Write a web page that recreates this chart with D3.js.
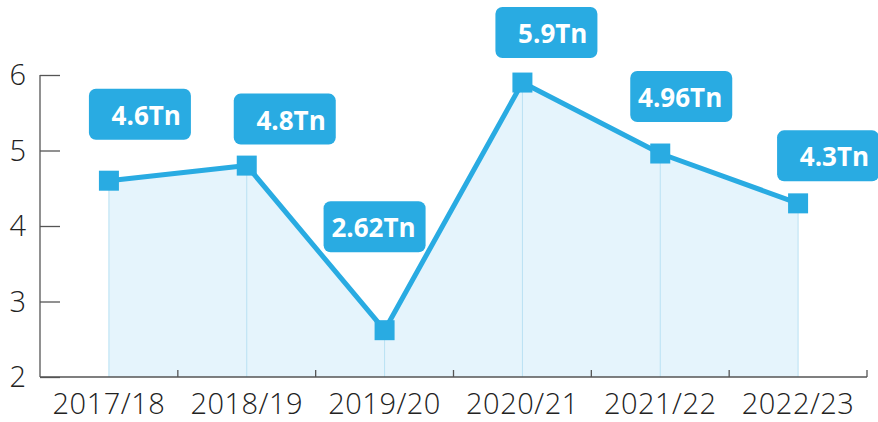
<!DOCTYPE html>
<html>
<head>
<meta charset="utf-8">
<script src="https://cdn.jsdelivr.net/npm/d3@7"></script>
<style>
  body { margin: 0; background: #fff; }
  svg { display: block; font-family: "Open Sans", "DejaVu Sans", sans-serif; }
</style>
</head>
<body>
<svg id="drawing_region"></svg>
<script>
// data
const years = ["2017/18", "2018/19", "2019/20", "2020/21", "2021/22", "2022/23"];
const values = [4.6, 4.8, 2.62, 5.9, 4.96, 4.3];
const valueLabels = ["4.6Tn", "4.8Tn", "2.62Tn", "5.9Tn", "4.96Tn", "4.3Tn"];
const yTicks = [2, 3, 4, 5, 6];

// where each callout box sits relative to its point (box centre dx, box bottom dy)
const calloutOffsets = [[31, -41], [38, -21], [-10, -78], [24, -24.5], [21, -31.5], [30, -22]];

const config = {
    width: 878,
    height: 422,
    left: 40,
    right: 867,
    top: 75,
    bottom: 377
};

const blue = "#29abe2";

const svg = d3.select("#drawing_region")
    .attr("width", config.width)
    .attr("height", config.height);

const xscale = d3.scaleBand()
    .domain(years)
    .range([config.left, config.right])
    .padding(0);

const yscale = d3.scaleLinear()
    .domain([2, 6])
    .range([config.bottom, config.top]);

const cx = d => xscale(d) + xscale.bandwidth() / 2;

const points = years.map((y, i) => ({ year: y, value: values[i], label: valueLabels[i], off: calloutOffsets[i] }));

// shaded area under the line
const area = d3.area()
    .x(d => cx(d.year))
    .y0(config.bottom)
    .y1(d => yscale(d.value));

svg.append("path")
    .datum(points)
    .attr("d", area)
    .attr("fill", "#e5f4fc");

// drop lines
svg.selectAll(".drop").data(points).enter()
    .append("line")
    .attr("x1", d => cx(d.year))
    .attr("x2", d => cx(d.year))
    .attr("y1", d => yscale(d.value))
    .attr("y2", config.bottom)
    .attr("stroke", "#b9e1f3")
    .attr("stroke-width", 1);

// y axis
const yAxis = svg.append("g")
    .attr("transform", `translate(${config.left},0)`)
    .call(d3.axisRight(yscale).tickValues(yTicks).tickSize(20).tickFormat(""));
yAxis.select(".domain").attr("d", `M0,${config.top}V${config.bottom}`);
yAxis.selectAll("line, path").attr("stroke", "#555").attr("stroke-width", 1.3);

svg.selectAll(".ylab").data(yTicks).enter()
    .append("text")
    .attr("x", 26)
    .attr("y", d => yscale(d))
    .attr("dy", "0.36em")
    .attr("text-anchor", "end")
    .attr("font-size", 29)
    .attr("font-weight", 300)
    .attr("fill", "#222")
    .text(d => d);

// x axis
const xAxis = svg.append("g")
    .attr("transform", `translate(0,${config.bottom})`);
xAxis.append("line")
    .attr("x1", config.left).attr("x2", config.right)
    .attr("y1", 0).attr("y2", 0)
    .attr("stroke", "#555").attr("stroke-width", 1.3);
const bounds = years.map(d => xscale(d)).concat([config.right]);
xAxis.selectAll(".xt").data(bounds.slice(1)).enter()
    .append("line")
    .attr("x1", d => d).attr("x2", d => d)
    .attr("y1", 0).attr("y2", -7)
    .attr("stroke", "#555").attr("stroke-width", 1.3);
xAxis.selectAll(".xlab").data(years).enter()
    .append("text")
    .attr("x", d => cx(d))
    .attr("y", 37)
    .attr("text-anchor", "middle")
    .attr("font-size", 29)
    .attr("font-weight", 300)
    .attr("letter-spacing", 0.5)
    .attr("fill", "#222")
    .text(d => d);

// line
const line = d3.line()
    .x(d => cx(d.year))
    .y(d => yscale(d.value));

svg.append("path")
    .datum(points)
    .attr("d", line)
    .attr("fill", "none")
    .attr("stroke", blue)
    .attr("stroke-width", 5)
    .attr("stroke-linejoin", "round");

// markers
const ms = 20;
svg.selectAll(".marker").data(points).enter()
    .append("rect")
    .attr("x", d => cx(d.year) - ms / 2)
    .attr("y", d => yscale(d.value) - ms / 2)
    .attr("width", ms)
    .attr("height", ms)
    .attr("fill", blue);

// callouts
const bw = 102, bh = 51;
const callout = svg.selectAll(".callout").data(points).enter()
    .append("g")
    .attr("transform", d => `translate(${cx(d.year) + d.off[0] - bw / 2},${yscale(d.value) + d.off[1] - bh})`);

callout.append("rect")
    .attr("width", bw)
    .attr("height", bh)
    .attr("rx", 7)
    .attr("fill", blue);

callout.append("text")
    .attr("x", bw - 10)
    .attr("y", 36)
    .attr("text-anchor", "end")
    .attr("font-size", 26)
    .attr("font-weight", 700)
    .attr("fill", "#fff")
    .text(d => d.label);
</script>
</body>
</html>
